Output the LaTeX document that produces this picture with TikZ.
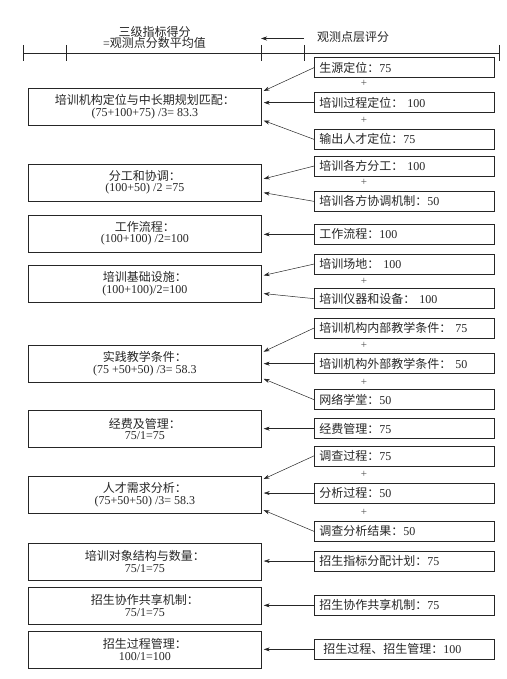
\documentclass[tikz,border=0pt]{standalone}
\usepackage{fontspec}
\setmainfont{Liberation Serif}
\newfontfamily\zhfont{Noto Sans CJK SC}
\newcommand\zh[1]{{\zhfont #1}}
\usetikzlibrary{arrows.meta,calc}
\begin{document}
\begin{tikzpicture}[x=1bp,y=-1bp,
  every node/.style={font=\fontsize{12bp}{11.5bp}\selectfont, text=black!85},
  lbox/.style={draw=black!85, line width=0.7bp, anchor=north west, minimum width=233bp, minimum height=37bp, align=center, inner sep=0pt},
  rbox/.style={draw=black!85, line width=0.7bp, anchor=north west, text width=170bp, minimum height=20bp, align=left, inner xsep=5bp, inner ysep=0pt},
  arr/.style={draw=black!85, -{Stealth[length=6bp,width=4bp]}, line width=0.5bp, shorten >=2bp},
  plus/.style={font=\fontsize{11bp}{11bp}\selectfont, inner sep=0pt, text=black!70},
  rule/.style={draw=black!85, line width=0.7bp}
]
\useasboundingbox (0,0) rectangle (507,679);

% header
\draw[rule] (23,53) -- (499,53);
\foreach \x in {23,66,261,304,499} \draw[rule] (\x,45) -- (\x,61);
\node (h1) at (154.5,37.5) [align=center] {\zh{三级指标得分}\\={\zhfont 观测点分数平均值}};
\node (h2) at (353,37) {\zh{观测点层评分}};
\coordinate (a1) at (304,38.5);
\coordinate (a2) at (261,38.5);
\draw[arr, shorten >=0pt] (a1) -- (a2);

% left boxes
\node[lbox] (L1) at (28,88) {\zh{培训机构定位与中长期规划匹配：}\\(75+100+75) /3= 83.3};
\node[lbox] (L2) at (28,163.5) {\zh{分工和协调：}\\(100+50) /2 =75};
\node[lbox] (L3) at (28,214.5) {\zh{工作流程：}\\(100+100) /2=100};
\node[lbox] (L4) at (28,265) {\zh{培训基础设施：}\\(100+100)/2=100};
\node[lbox] (L5) at (28,344.7) {\zh{实践教学条件：}\\(75 +50+50) /3= 58.3};
\node[lbox] (L6) at (28,410) {\zh{经费及管理：}\\75/1=75};
\node[lbox] (L7) at (28,476) {\zh{人才需求分析：}\\(75+50+50) /3= 58.3};
\node[lbox] (L8) at (28,542.7) {\zh{培训对象结构与数量：}\\75/1=75};
\node[lbox] (L9) at (28,586.7) {\zh{招生协作共享机制：}\\75/1=75};
\node[lbox] (L10) at (28,630.7) {\zh{招生过程管理：}\\100/1=100};

% right boxes
\node[rbox] (R1) at (314,57.3) {\zh{生源定位：}75};
\node[rbox] (R2) at (314,92.3) {\zh{培训过程定位：} 100};
\node[rbox] (R3) at (314,129) {\zh{输出人才定位：}75};
\node[rbox] (R4) at (314,155.7) {\zh{培训各方分工：} 100};
\node[rbox] (R5) at (314,191) {\zh{培训各方协调机制：}50};
\node[rbox] (R6) at (314,224) {\zh{工作流程：}100};
\node[rbox] (R7) at (314,253.7) {\zh{培训场地：} 100};
\node[rbox] (R8) at (314,288.3) {\zh{培训仪器和设备：} 100};
\node[rbox] (R9) at (314,317.7) {\zh{培训机构内部教学条件：} 75};
\node[rbox] (R10) at (314,353.3) {\zh{培训机构外部教学条件：} 50};
\node[rbox] (R11) at (314,389.3) {\zh{网络学堂：}50};
\node[rbox] (R12) at (314,418.3) {\zh{经费管理：}75};
\node[rbox] (R13) at (314,445.5) {\zh{调查过程：}75};
\node[rbox] (R14) at (314,482.7) {\zh{分析过程：}50};
\node[rbox] (R15) at (314,521) {\zh{调查分析结果：}50};
\node[rbox] (R16) at (314,550.7) {\zh{招生指标分配计划：}75};
\node[rbox] (R17) at (314,595) {\zh{招生协作共享机制：}75};
\node[rbox] (R18) at (314,639) {\hspace{4bp}\zh{招生过程、招生管理：}100};

% plus signs
\node[plus] (p1) at (364,83) {+};
\node[plus] (p2) at (364,120) {+};
\node[plus] (p3) at (364,182.5) {+};
\node[plus] (p4) at (364,281) {+};
\node[plus] (p5) at (364,345) {+};
\node[plus] (p6) at (364,382) {+};
\node[plus] (p7) at (364,474) {+};
\node[plus] (p8) at (364,512) {+};

% connectors
\draw[arr] (R1.west) -- ([yshift=15bp]L1.east);
\draw[arr] (R2.west) -- (R2.west -| L1.east);
\draw[arr] (R3.west) -- ([yshift=-13bp]L1.east);

\draw[arr] (R4.west) -- ([yshift=3bp]L2.east);
\draw[arr] (R5.west) -- ([yshift=-10bp]L2.east);

\draw[arr] (R6.west) -- (R6.west -| L3.east);

\draw[arr] (R7.west) -- ([yshift=8bp]L4.east);
\draw[arr] (R8.west) -- ([yshift=-9.5bp]L4.east);

\draw[arr] (R9.west) -- ([yshift=11bp]L5.east);
\draw[arr] (R10.west) -- (R10.west -| L5.east);
\draw[arr] (R11.west) -- ([yshift=-14.5bp]L5.east);

\draw[arr] (R12.west) -- (R12.west -| L6.east);

\draw[arr] (R13.west) -- ([yshift=15bp]L7.east);
\draw[arr] (R14.west) -- (R14.west -| L7.east);
\draw[arr] (R15.west) -- ([yshift=-14.5bp]L7.east);

\draw[arr] (R16.west) -- (R16.west -| L8.east);
\draw[arr] (R17.west) -- (R17.west -| L9.east);
\draw[arr] (R18.west) -- (R18.west -| L10.east);
\end{tikzpicture}
\end{document}
